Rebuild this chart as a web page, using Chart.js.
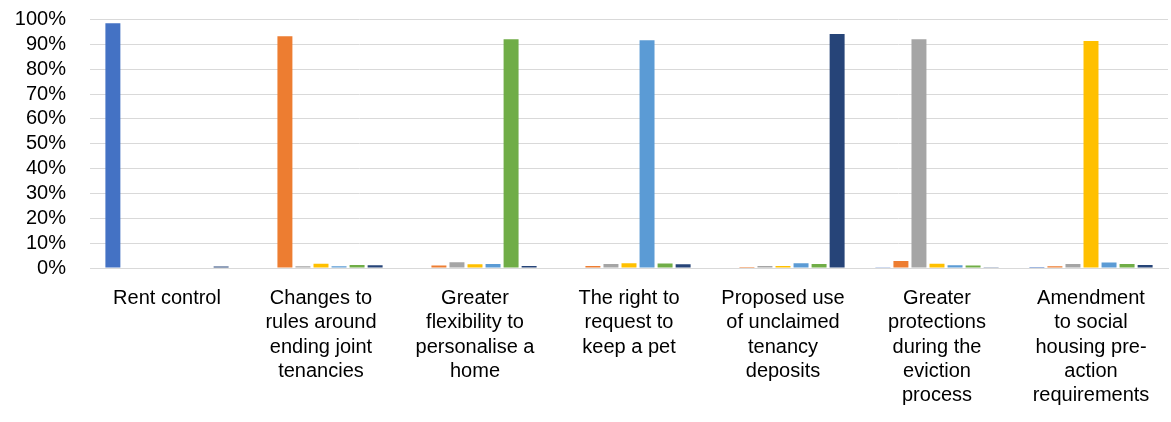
<!DOCTYPE html>
<html>
<head>
<meta charset="utf-8">
<script src="https://cdn.jsdelivr.net/npm/chart.js@4.4.1/dist/chart.umd.min.js"></script>
<style>
  html, body { margin: 0; padding: 0; background: #fff; }
  #wrap { width: 1171px; height: 422px; }
</style>
</head>
<body>
<div id="wrap"><canvas id="chart" width="1171" height="422"></canvas></div>
<script>
// Proposals (one group of bars each)
const categories = [
    'Rent control',
    ['Changes to', 'rules around', 'ending joint', 'tenancies'],
    ['Greater', 'flexibility to', 'personalise a', 'home'],
    ['The right to', 'request to', 'keep a pet'],
    ['Proposed use', 'of unclaimed', 'tenancy', 'deposits'],
    ['Greater', 'protections', 'during the', 'eviction', 'process'],
    ['Amendment', 'to social', 'housing pre-', 'action', 'requirements']
];

// Share of responses (%) per series, in category order
const series1 = [98.5, 0.2, 0.2, 0, 0, 0.1, 0.4];
const series2 = [0.2, 93.3, 1.0, 0.8, 0.4, 2.8, 0.7];
const series3 = [0, 0.7, 2.3, 1.6, 0.8, 92.1, 1.6];
const series4 = [0.2, 1.7, 1.5, 1.9, 0.8, 1.7, 91.3];
const series5 = [0, 0.7, 1.6, 91.6, 1.9, 1.1, 2.2];
const series6 = [0, 1.2, 92.1, 1.8, 1.6, 1.0, 1.6];
const series7 = [0.6, 1.1, 0.8, 1.5, 94.2, 0.3, 1.2];

const yTicks = [0, 10, 20, 30, 40, 50, 60, 70, 80, 90, 100];

const palette = ['#4472C4', '#ED7D31', '#A5A5A5', '#FFC000', '#5B9BD5', '#70AD47', '#264478'];
const allSeries = [series1, series2, series3, series4, series5, series6, series7];

const font = { family: 'Arial, "Liberation Sans", sans-serif', size: 20, lineHeight: 1.22 };

new Chart(document.getElementById('chart').getContext('2d'), {
    type: 'bar',
    data: {
        labels: categories,
        datasets: allSeries.map((values, i) => ({
            label: 'Series ' + (i + 1),
            data: values,
            backgroundColor: palette[i],
            borderWidth: 0,
            categoryPercentage: 0.82,
            barPercentage: 0.83
        }))
    },
    options: {
        responsive: false,
        animation: false,
        layout: { padding: { top: 19.5, right: 3, left: 0, bottom: 0 } },
        plugins: {
            legend: { display: false },
            tooltip: { enabled: false }
        },
        scales: {
            x: {
                grid: { display: false },
                border: { color: '#D9D9D9', width: 1 },
                ticks: {
                    color: '#000',
                    font: font,
                    padding: 10,
                    maxRotation: 0,
                    autoSkip: false
                },
                afterFit: scale => {
                    scale.height = 154;
                    scale.paddingTop = 0;
                }
            },
            y: {
                min: 0,
                max: 100,
                afterBuildTicks: scale => {
                    scale.ticks = yTicks.map(v => ({ value: v }));
                },
                grid: { color: '#D9D9D9', lineWidth: 1, drawTicks: false },
                border: { display: false },
                ticks: {
                    color: '#000',
                    font: font,
                    padding: 24,
                    autoSkip: false,
                    callback: v => v + '%'
                },
                afterFit: scale => {
                    scale.width = 90;
                    scale.paddingTop = 0;
                    scale.paddingBottom = 0;
                }
            }
        }
    }
});
</script>
</body>
</html>
